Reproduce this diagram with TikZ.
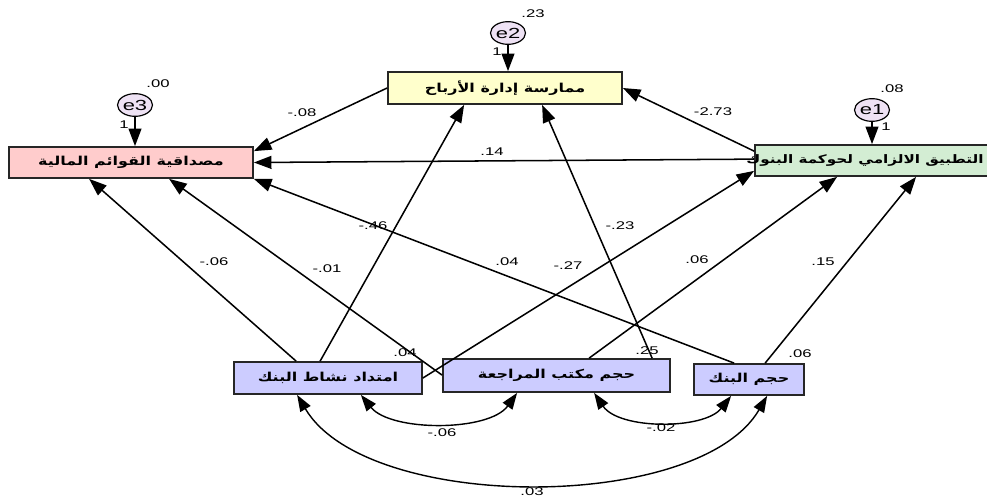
\documentclass[tikz,border=0pt]{standalone}
\usepackage{fontspec}
\setmainfont{Liberation Sans}
\newfontfamily\lblfont[FakeStretch=1.5]{Liberation Sans}
\newfontfamily\arabicfont[Script=Arabic,FakeStretch=1.3]{DejaVu Sans}
\TeXXeTstate=1
\usetikzlibrary{arrows.meta,calc,shapes.geometric}

\definecolor{ernfill}{HTML}{FFFFCC}
\definecolor{credfill}{HTML}{FFCCCC}
\definecolor{govfill}{HTML}{D3EDD3}
\definecolor{exofill}{HTML}{CCCCFF}
\definecolor{errfill}{HTML}{EEE2F4}

\begin{document}
\begin{tikzpicture}[x=0.03cm,y=-0.03cm,
    varbox/.style={draw=black!85,line width=1.5pt,inner sep=0pt,
      font=\arabicfont\bfseries\fontsize{10.5}{12}\selectfont},
    errnode/.style={ellipse,draw,line width=1pt,fill=errfill,inner sep=0pt,
      minimum width=1.05cm,minimum height=0.68cm,font=\lblfont\fontsize{12.5}{13}\selectfont},
    lab/.style={inner sep=0pt,font=\lblfont\fontsize{9.5}{11}\selectfont},
    regarrow/.style={line width=1.3pt,-{Triangle[length=15pt,width=11pt]}},
    covarrow/.style={line width=1.2pt,{Triangle[length=14pt,width=10pt]}-{Triangle[length=14pt,width=10pt]}}]
  \useasboundingbox (0,0) rectangle (987,498);

  % observed variables
  \node[varbox,fill=ernfill,minimum width=7.02cm,minimum height=0.96cm] (ern) at (505,88) {\beginR ممارسة إدارة الأرباح\endR};
  \node[varbox,fill=credfill,minimum width=7.32cm,minimum height=0.93cm] (cred) at (131,162.5) {\beginR مصداقية القوائم المالية\endR};
  \node[varbox,fill=govfill,minimum width=7.35cm,minimum height=0.93cm] (gov) at (877.5,160.5) {};
  \node[varbox,draw=none,font=\arabicfont\bfseries\fontsize{10}{12}\selectfont] (govtxt) at (865,160.5) {\beginR التطبيق الالزامي لحوكمة البنوك\endR};
  \node[varbox,fill=exofill,minimum width=5.64cm,minimum height=0.96cm] (ext) at (328,378) {\beginR امتداد نشاط البنك\endR};
  \node[varbox,fill=exofill,minimum width=6.81cm,minimum height=0.99cm] (aud) at (556.5,375.5) {\beginR حجم مكتب المراجعة\endR};
  \node[varbox,fill=exofill,minimum width=3.3cm,minimum height=0.93cm] (bsize) at (749,379.5) {\beginR حجم البنك\endR};

  % errors
  \node[errnode] (e2) at (508,33) {e2};
  \node[errnode] (e3) at (135,105) {e3};
  \node[errnode] (e1) at (872,110) {e1};
  \draw[regarrow] (e2.south) -- (e2.south |- ern.north);
  \draw[regarrow] (e3.south) -- (e3.south |- cred.north);
  \draw[regarrow] (e1.south) -- (e1.south |- gov.north);
  \node[lab] (r2) at (533,14) {.23};
  \node[lab] (r3) at (158,84) {.00};
  \node[lab] (r1) at (892,89) {.08};
  \node[lab] (one2) at (497,52) {1};
  \node[lab] (one3) at (124,125) {1};
  \node[lab] (one1) at (886,127) {1};

  % paths
  \draw[regarrow] (ern.west) -- ($(cred.north east)+(0,5)$);
  \draw[regarrow] ($(gov.north west)+(0,7)$) -- (ern.east);
  \draw[regarrow] ($(gov.north west)+(0,15)$) -- (cred.east);
  \draw[regarrow] ($(ext.north west)+(87,0)$) -- ($(ern.south west)+(77,0)$);
  \draw[regarrow] ($(aud.north west)+(210,0)$) -- ($(ern.south west)+(155,0)$);
  \draw[regarrow] ($(ext.north west)+(63,0)$) -- ($(cred.south west)+(81,0)$);
  \draw[regarrow] ($(aud.north west)+(0,17)$) -- ($(cred.south west)+(161,0)$);
  \draw[regarrow] ($(bsize.north west)+(41,0)$) -- (cred.south east);
  \draw[regarrow] (ext.east) -- ($(gov.south west)+(0,-6)$);
  \draw[regarrow] ($(aud.north west)+(147,0)$) -- ($(gov.south west)+(83,0)$);
  \draw[regarrow] ($(bsize.north west)+(72,0)$) -- ($(gov.south west)+(162,0)$);

  \node[lab] (w1) at (302,113) {-.08};
  \node[lab] (w2) at (713,112) {-2.73};
  \node[lab] (w3) at (492,152) {.14};
  \node[lab] (w4) at (373,226) {-.46};
  \node[lab] (w5) at (620,226) {-.23};
  \node[lab] (w6) at (214,262) {-.06};
  \node[lab] (w7) at (327,269) {-.01};
  \node[lab] (w8) at (507,262) {.04};
  \node[lab] (w9) at (568,266) {-.27};
  \node[lab] (w10) at (697,260) {.06};
  \node[lab] (w11) at (823,262) {.15};

  \node[lab] (v1) at (405,353) {.04};
  \node[lab] (v2) at (647,351) {.25};
  \node[lab] (v3) at (800,354) {.06};

  % covariances
  \draw[covarrow] ($(ext.south east)+(-62,0)$) .. controls +(30,37) and +(-28,39) .. ($(aud.south west)+(75,0)$);
  \draw[covarrow] ($(aud.south west)+(152,0)$) .. controls +(25,37) and +(-27,34) .. ($(bsize.south west)+(38,0)$);
  \draw[covarrow] ($(ext.south west)+(64,0)$) .. controls +(70,118) and +(-68,117) .. ($(bsize.south west)+(74,0)$);
  \node[lab] (c1) at (442,433) {-.06};
  \node[lab] (c2) at (661,428) {-.02};
  \node[lab] (c3) at (532,492) {.03};
\end{tikzpicture}
\end{document}
